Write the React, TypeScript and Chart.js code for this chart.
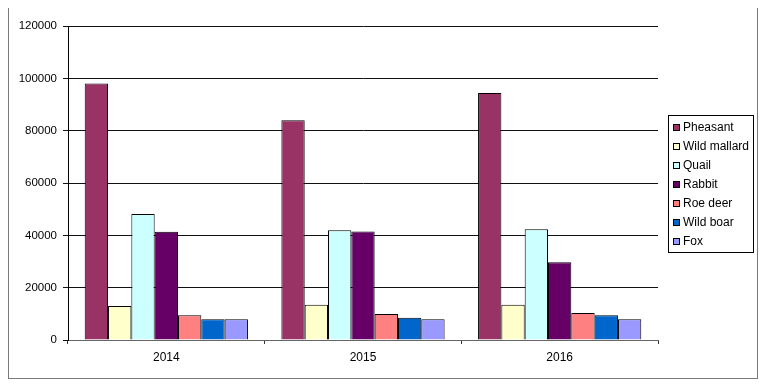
import React, { useEffect, useRef } from "react";
import { Chart, registerables } from "chart.js";

Chart.register(...registerables);

const categories = ["2014", "2015", "2016"];
const seriesNames = ["Pheasant", "Wild mallard", "Quail", "Rabbit", "Roe deer", "Wild boar", "Fox"];
const pheasant = [98000, 84000, 94400];
const wildMallard = [13000, 13500, 13500];
const quail = [48200, 41900, 42300];
const rabbit = [41400, 41500, 29700];
const roeDeer = [9500, 9900, 10300];
const wildBoar = [7900, 8500, 9500];
const fox = [7900, 7900, 7900];
const seriesColors = ["#993366", "#FFFFCC", "#CCFFFF", "#660066", "#FF8080", "#0066CC", "#9999FF"];
const yTicks = { min: 0, max: 120000, step: 20000 };

const FONT = "'Liberation Sans', Arial, sans-serif";

const boxLegend = {
  id: "boxLegend",
  afterDraw(chart: any) {
    const ctx = chart.ctx;
    const area = chart.chartArea;
    const left = area.right + 10;
    const top = 107;
    const width = 85;
    const height = 137;
    ctx.save();
    ctx.fillStyle = "#ffffff";
    ctx.fillRect(left, top, width, height);
    ctx.strokeStyle = "#000000";
    ctx.lineWidth = 1;
    ctx.strokeRect(left + 0.5, top + 0.5, width, height);
    ctx.font = `12px ${FONT}`;
    ctx.textBaseline = "middle";
    ctx.textAlign = "left";
    chart.data.datasets.forEach((ds: any, i: number) => {
      const cy = top + 12 + i * 19;
      ctx.fillStyle = ds.backgroundColor;
      ctx.fillRect(left + 5, cy - 3, 7, 7);
      ctx.strokeStyle = "#000000";
      ctx.strokeRect(left + 5.5, cy - 2.5, 6, 6);
      ctx.fillStyle = "#000000";
      ctx.fillText(ds.label, left + 15, cy + 1);
    });
    ctx.restore();
  },
};

export default function App() {
  const ref = useRef<HTMLCanvasElement | null>(null);
  useEffect(() => {
    if (!ref.current) return;
    const values = [pheasant, wildMallard, quail, rabbit, roeDeer, wildBoar, fox];
    const chart = new Chart(ref.current, {
      type: "bar",
      data: {
        labels: categories,
        datasets: seriesNames.map((name, i) => ({
          label: name,
          data: values[i],
          backgroundColor: seriesColors[i],
          borderColor: "#000000",
          borderWidth: 1,
          categoryPercentage: 0.83,
          barPercentage: 1,
        })),
      },
      options: {
        responsive: false,
        animation: false,
        layout: { padding: { top: 18, right: 99, left: 0, bottom: 0 } },
        plugins: { legend: { display: false }, tooltip: { enabled: false } },
        scales: {
          x: {
            afterFit: (s: any) => { s.height = 38; },
            grid: { drawOnChartArea: false, drawTicks: true, tickLength: 4, color: "#333" },
            border: { color: "#666", width: 1 },
            ticks: { color: "#000", font: { family: FONT, size: 12 }, padding: 6 },
          },
          y: {
            min: yTicks.min,
            max: yTicks.max,
            afterFit: (s: any) => { s.width = 59; },
            grid: { color: "#111", tickLength: 5 },
            border: { color: "#000", width: 1 },
            ticks: {
              stepSize: yTicks.step,
              color: "#000",
              font: { family: FONT, size: 11.5 },
              padding: 6,
              callback: (v: any) => String(v),
            },
          },
        },
      },
      plugins: [boxLegend],
    });
    return () => chart.destroy();
  }, []);
  return (
    <div style={{ width: 750, height: 372, border: "1px solid #7a7a7a", boxSizing: "border-box", marginTop: -1, background: "#fff" }}>
      <canvas ref={ref} width={748} height={370} style={{ display: "block" }} />
    </div>
  );
}
